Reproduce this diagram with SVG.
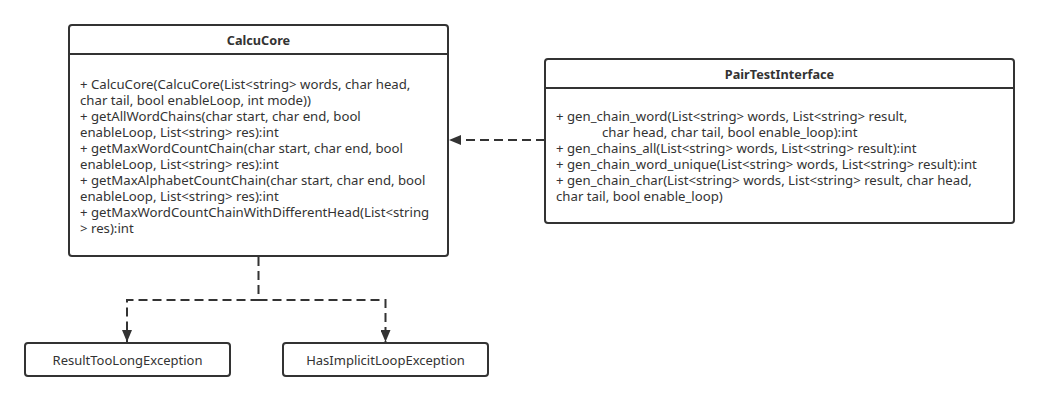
<svg xmlns="http://www.w3.org/2000/svg" width="1039" height="402" viewBox="0 0 1039 402">
<style>
.box{fill:#fff;stroke:#333;stroke-width:2}
.sep{stroke:#333;stroke-width:2}
.title{font-family:"Noto Sans","Liberation Sans",sans-serif;font-size:12.7px;font-weight:bold;fill:#333;text-anchor:middle}
.t{font-family:"Noto Sans","Liberation Sans",sans-serif;font-size:13.2px;fill:#333}
.c{text-anchor:middle;font-size:13px}
.dash{fill:none;stroke:#333;stroke-width:2;stroke-dasharray:9 5}
</style>
<defs>
<marker id="arr" viewBox="0 0 12 10" refX="12" refY="5" markerWidth="12" markerHeight="10" markerUnits="userSpaceOnUse" orient="auto">
<path d="M0,0 L12,5 L0,10 Z" fill="#333"/>
</marker>
</defs>
<rect width="1039" height="402" fill="#fff"/>
<g id="connectors">
<path class="dash" d="M545,140 H449" marker-end="url(#arr)"/>
<path class="dash" d="M258.5,257 V300 H127 V342" marker-end="url(#arr)"/>
<path class="dash" d="M258.5,300 H385.5 V342" marker-end="url(#arr)"/>
</g>
<g id="CalcuCore">
<rect class="box" x="69" y="25" width="379" height="231" rx="3"/>
<line class="sep" x1="69" y1="54" x2="448" y2="54"/>
<text class="title" x="258.5" y="45">CalcuCore</text>
<text class="t" x="80" y="88.5">+ CalcuCore(CalcuCore(List&lt;string&gt; words, char head,</text>
<text class="t" x="80" y="104.5">char tail, bool enableLoop, int mode))</text>
<text class="t" x="80" y="120.5">+ getAllWordChains(char start, char end, bool</text>
<text class="t" x="80" y="136.5">enableLoop, List&lt;string&gt; res):int</text>
<text class="t" x="80" y="152.5">+ getMaxWordCountChain(char start, char end, bool</text>
<text class="t" x="80" y="168.5">enableLoop, List&lt;string&gt; res):int</text>
<text class="t" x="80" y="184.5">+ getMaxAlphabetCountChain(char start, char end, bool</text>
<text class="t" x="80" y="200.5">enableLoop, List&lt;string&gt; res):int</text>
<text class="t" x="80" y="216.5">+ getMaxWordCountChainWithDifferentHead(List&lt;string</text>
<text class="t" x="80" y="232.5">&gt; res):int</text>
</g>
<g id="PairTestInterface">
<rect class="box" x="545" y="59" width="469" height="164" rx="3"/>
<line class="sep" x1="545" y1="88" x2="1014" y2="88"/>
<text class="title" x="779.5" y="78.5">PairTestInterface</text>
<text class="t" x="556" y="120.5">+ gen_chain_word(List&lt;string&gt; words, List&lt;string&gt; result,</text>
<text class="t" x="602" y="136.5">char head, char tail, bool enable_loop):int</text>
<text class="t" x="556" y="152.5">+ gen_chains_all(List&lt;string&gt; words, List&lt;string&gt; result):int</text>
<text class="t" x="556" y="168.5">+ gen_chain_word_unique(List&lt;string&gt; words, List&lt;string&gt; result):int</text>
<text class="t" x="556" y="184.5">+ gen_chain_char(List&lt;string&gt; words, List&lt;string&gt; result, char head,</text>
<text class="t" x="556" y="200.5">char tail, bool enable_loop)</text>
</g>
<g id="ResultTooLongException">
<rect class="box" x="25" y="343" width="205" height="33" rx="3"/>
<text class="t c" x="127.5" y="364.5">ResultTooLongException</text>
</g>
<g id="HasImplicitLoopException">
<rect class="box" x="283" y="343" width="205" height="33" rx="3"/>
<text class="t c" x="385.5" y="364.5">HasImplicitLoopException</text>
</g>
</svg>
